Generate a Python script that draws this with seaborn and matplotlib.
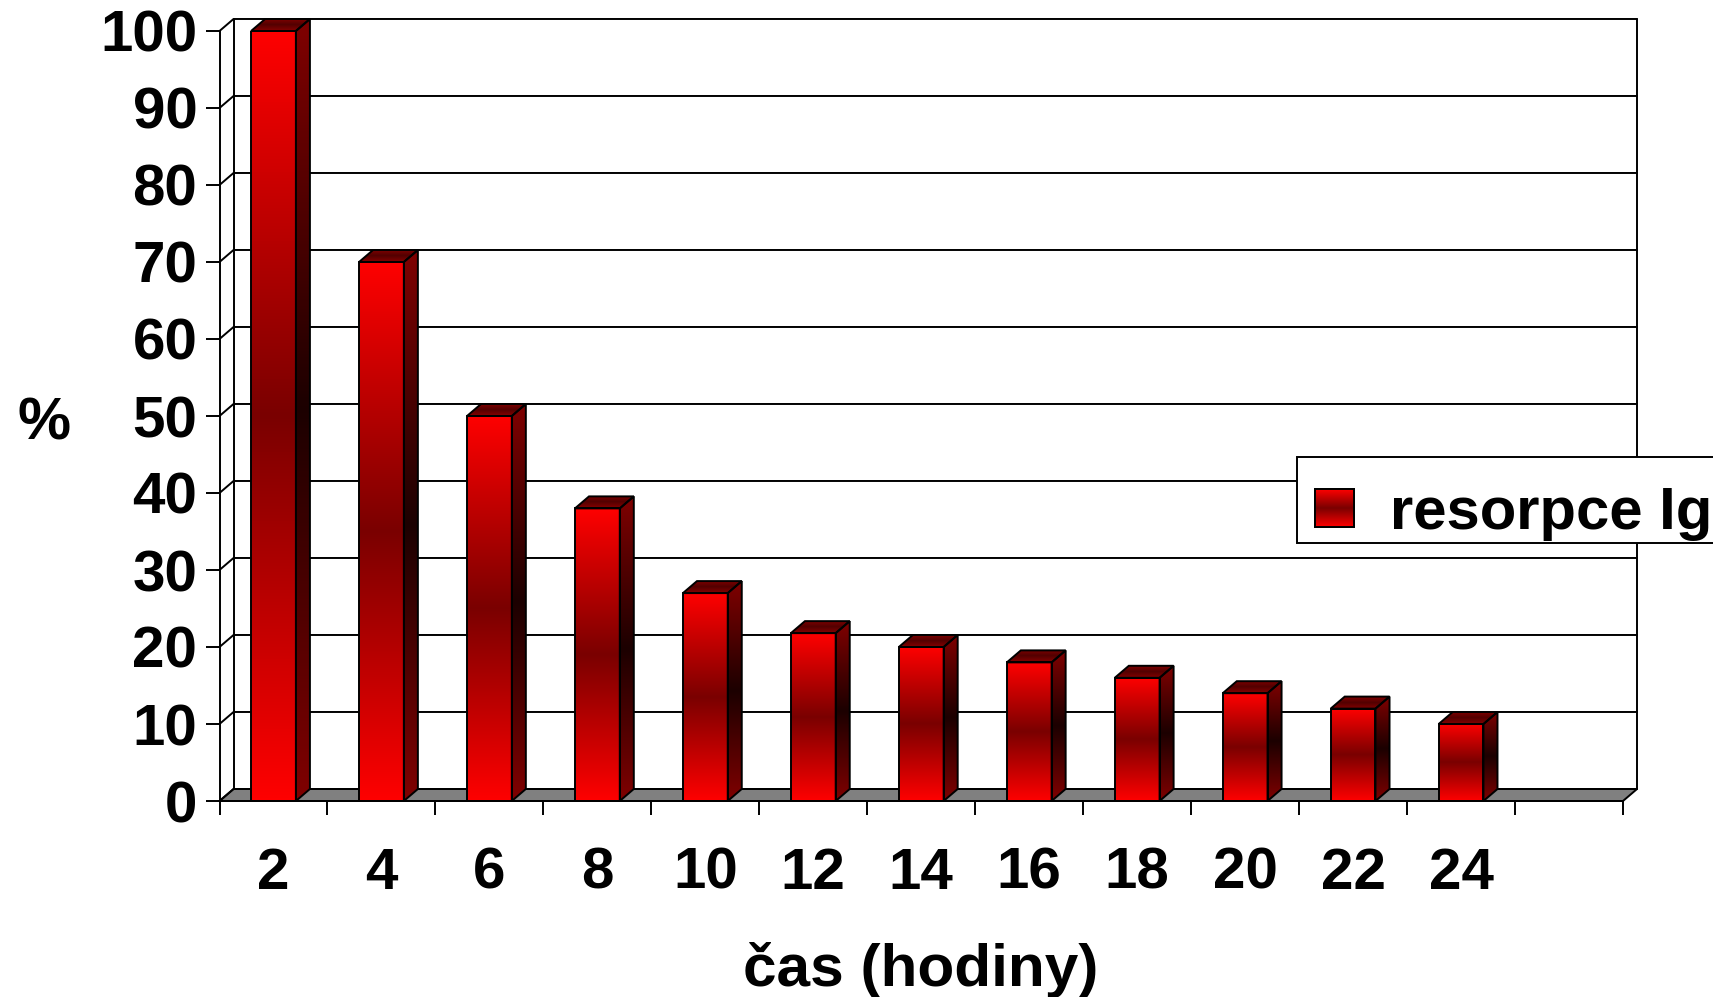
import matplotlib
matplotlib.use("Agg")
import matplotlib.pyplot as plt
import numpy as np
import pandas as pd
import seaborn as sns
from matplotlib.colors import LinearSegmentedColormap
from matplotlib.patches import Polygon, Rectangle

hours = ["2", "4", "6", "8", "10", "12", "14", "16", "18", "20", "22", "24"]
resorption = [100, 70, 50, 38, 27, 21.8, 20, 18, 16, 14, 12, 10]
y_ticks = [0, 10, 20, 30, 40, 50, 60, 70, 80, 90, 100]
series_name = "resorpce Ig"

W, H = 1713, 997
LW = 1.4
FONT = 42
# fake 3D depth, in data units
DX, DY = 0.13, 1.56
N_SLOTS = len(hours) + 1

FRONT = LinearSegmentedColormap.from_list("front", ["#ff0000", "#7a0000", "#ff0000"])
SIDE = LinearSegmentedColormap.from_list("side", ["#800000", "#1c0000", "#800000"])
TOP = LinearSegmentedColormap.from_list("top", ["#860000", "#520000", "#860000"])
RAMP = np.linspace(0, 1, 256).reshape(-1, 1)


def gradient_face(ax, verts, cmap, zorder):
    """Fill a polygon with a vertical gradient and outline it."""
    xs, ys = zip(*verts)
    poly = Polygon(verts, closed=True, facecolor="none", edgecolor="black",
                   linewidth=LW, zorder=zorder + 0.1, clip_on=False)
    ax.add_patch(poly)
    img = ax.imshow(RAMP, cmap=cmap, aspect="auto", zorder=zorder,
                    extent=(min(xs), max(xs), min(ys), max(ys)))
    # top face of the 100 % bar sticks out of the axes
    img.set_clip_box(fig.bbox)
    img.set_clip_path(poly)


sns.set_theme(style="white")
plt.rcParams["font.family"] = ["Liberation Sans", "DejaVu Sans"]
plt.rcParams["font.weight"] = "bold"

df = pd.DataFrame({"hours": hours, "pct": resorption})

fig = plt.figure(figsize=(W / 100, H / 100), dpi=100)
ax = fig.add_axes([219.5 / W, (H - 801) / H, 1403.5 / W, 770 / H])

sns.barplot(data=df, x="hours", y="pct", order=hours, color="#ff0000", width=0.415,
            edgecolor="black", linewidth=LW, saturation=1, label=series_name, ax=ax)

x0, x1 = -0.5, N_SLOTS - 0.5
line = dict(color="black", lw=LW, clip_on=False, zorder=1)

# floor
ax.add_patch(Polygon([(x0, 0), (x1, 0), (x1 + DX, DY), (x0 + DX, DY)], closed=True,
                     facecolor="#808080", edgecolor="black", linewidth=LW,
                     clip_on=False, zorder=1))

# back wall grid and the left wall diagonals
for y in y_ticks:
    ax.plot([x0, x0 + DX, x1 + DX], [y, y + DY, y + DY], **line)
ax.plot([x0 + DX, x0 + DX], [DY, y_ticks[-1] + DY], **line)
ax.plot([x1 + DX, x1 + DX], [DY, y_ticks[-1] + DY], **line)

# legend: frame is drawn apart so the entry can sit low in the box like the original
legend = ax.legend(loc="upper left", bbox_to_anchor=(1297 / W, (H - 468) / H),
                   bbox_transform=fig.transFigure, borderaxespad=0,
                   frameon=False, labelcolor="black",
                   handlelength=0.65, handleheight=0.60, handletextpad=0.60,
                   borderpad=0.30, prop={"weight": "bold", "size": 43})
legend.set_zorder(10)
ax.add_patch(Rectangle((1297 / W, (H - 543) / H), 500 / W, 86 / H, transform=fig.transFigure,
                       facecolor="white", edgecolor="black", linewidth=LW,
                       clip_on=False, zorder=9))

# bars: gradient front plus side and top faces
for bar in ax.containers[0]:
    left, right = bar.get_x(), bar.get_x() + bar.get_width()
    h = bar.get_height()
    bar.set_facecolor("none")
    bar.set_zorder(4)
    img = ax.imshow(RAMP, cmap=FRONT, aspect="auto", zorder=3, extent=(left, right, 0, h))
    img.set_clip_path(bar)
    gradient_face(ax, [(right, 0), (right + DX, DY), (right + DX, h + DY), (right, h)], SIDE, 3)
    gradient_face(ax, [(left, h), (right, h), (right + DX, h + DY), (left + DX, h + DY)], TOP, 3)

ax.set_xlim(x0, x1)
ax.set_ylim(0, 100)
ax.set_yticks(y_ticks)
ax.set_xticks(np.arange(N_SLOTS - 1))
ax.set_xticklabels(hours)
ax.set_xticks(np.arange(N_SLOTS + 1) - 0.5, minor=True)

ax.tick_params(axis="y", which="major", length=10, width=LW, color="black", left=True,
               pad=6, labelsize=FONT, labelcolor="black")
ax.tick_params(axis="x", which="major", length=0, pad=33, labelsize=FONT, labelcolor="black")
ax.tick_params(axis="x", which="minor", length=10, width=LW, color="black", bottom=True)

for name in ("top", "right"):
    ax.spines[name].set_visible(False)
for name in ("left", "bottom"):
    ax.spines[name].set_color("black")
    ax.spines[name].set_linewidth(LW)
    ax.spines[name].set_zorder(5)
ax.patch.set_alpha(0)

ax.set_xlabel("čas (hodiny)", fontsize=43.5, fontweight="bold", color="black", va="center")
ax.xaxis.set_label_coords(0.4998, -0.219)
ax.set_ylabel("%", fontsize=43, fontweight="bold", color="black", rotation=0,
              ha="center", va="center")
ax.yaxis.set_label_coords(-0.125, 0.49)

# legend swatch gets the same gradient as the bars
fig.canvas.draw()
swatch = legend.get_patches()[0].get_window_extent()
sw_ax = fig.add_axes([swatch.x0 / W, swatch.y0 / H, swatch.width / W, swatch.height / H],
                     zorder=20)
sw_ax.imshow(RAMP, cmap=FRONT, aspect="auto")
sw_ax.set_xticks([])
sw_ax.set_yticks([])
for spine in sw_ax.spines.values():
    spine.set_color("black")
    spine.set_linewidth(LW)

fig.savefig("out.png", dpi=100)
plt.close(fig)
